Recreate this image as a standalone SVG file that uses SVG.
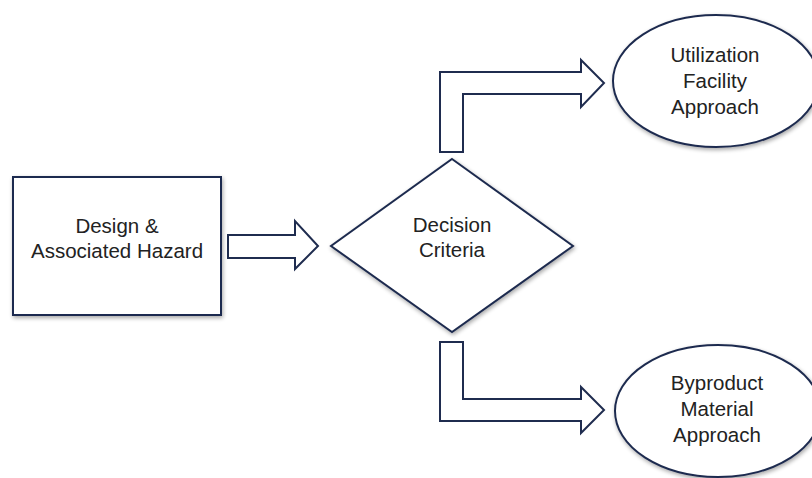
<svg xmlns="http://www.w3.org/2000/svg" width="812" height="478" viewBox="0 0 812 478">
<defs>
<filter id="sh" x="-10%" y="-10%" width="130%" height="130%">
<feGaussianBlur in="SourceAlpha" stdDeviation="2"/>
<feOffset dx="1" dy="2" result="b"/>
<feComponentTransfer><feFuncA type="linear" slope="0.35"/></feComponentTransfer>
<feMerge><feMergeNode/><feMergeNode in="SourceGraphic"/></feMerge>
</filter>
</defs>
<style>
.n{fill:#ffffff;stroke:#1f2c4f;stroke-width:2;filter:url(#sh)}
.a{fill:#ffffff;stroke:#1f2c4f;stroke-width:2;stroke-linejoin:miter}
.t{font-family:"Liberation Sans",Arial,sans-serif;font-size:20.5px;fill:#222222;text-anchor:middle}
</style>
<rect width="812" height="478" fill="#ffffff"/>
<g id="connectors">
<polygon class="a" points="228,235 295,235 295,221 318,246 295,269 295,258 228,258"/>
<polygon class="a" points="440,152 440,72 581,72 581,60 604,83 581,107 581,94 463,94 463,152"/>
<polygon class="a" points="440,342 463,342 463,399 581,399 581,387 604,410 581,433 581,421 440,421"/>
</g>
<g id="design">
<rect class="n" x="13" y="177" width="208" height="138"/>
<text class="t" x="117" y="233">Design &amp;</text>
<text class="t" x="117" y="258">Associated Hazard</text>
</g>
<g id="decision">
<polygon class="n" points="452,159 573,246 452,332 331,246"/>
<text class="t" x="452" y="232">Decision</text>
<text class="t" x="452" y="257">Criteria</text>
</g>
<g id="utilization">
<ellipse class="n" cx="716" cy="81" rx="103" ry="66"/>
<text class="t" x="715" y="62">Utilization</text>
<text class="t" x="715" y="88">Facility</text>
<text class="t" x="715" y="114">Approach</text>
</g>
<g id="byproduct">
<ellipse class="n" cx="718" cy="411" rx="103" ry="66"/>
<text class="t" x="717" y="390">Byproduct</text>
<text class="t" x="717" y="416">Material</text>
<text class="t" x="717" y="442">Approach</text>
</g>
</svg>
